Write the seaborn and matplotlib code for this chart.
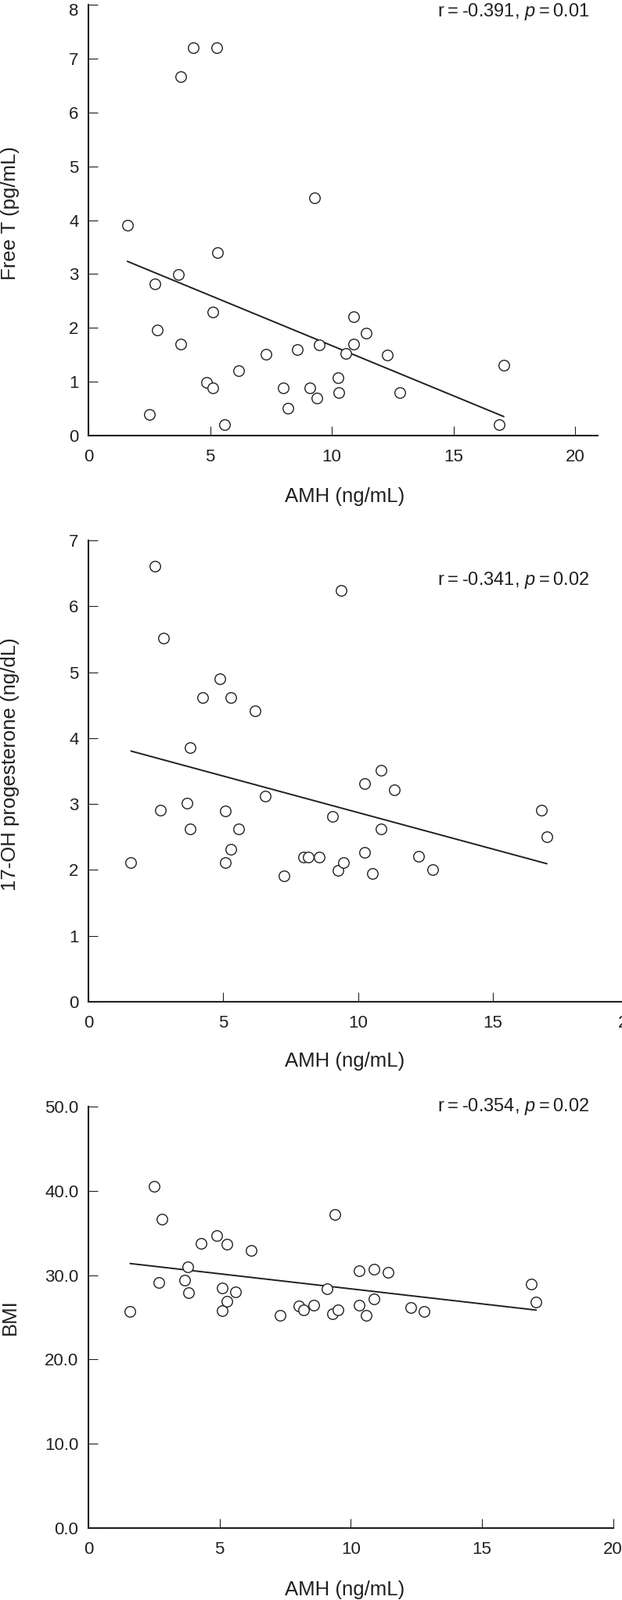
import matplotlib
matplotlib.use("Agg")
import matplotlib.pyplot as plt
import matplotlib.transforms as mtransforms
import seaborn as sns
import numpy as np
import pandas as pd

# ---------------- data ----------------
amh_t = [1.60, 2.52, 2.72, 2.82, 3.71, 3.78, 3.79, 4.32, 4.87, 5.11, 5.11, 5.28, 5.31,
         5.60, 6.17, 7.31, 8.00, 8.21, 8.60, 9.09, 9.28, 9.38, 9.50, 10.24, 10.29,
         10.59, 10.90, 10.90, 11.40, 12.28, 12.80, 16.87, 17.07]
free_t = [3.90, 0.39, 2.81, 1.96, 2.99, 6.66, 1.70, 7.20, 0.99, 0.89, 2.30, 7.20, 3.40,
          0.20, 1.21, 1.51, 0.89, 0.51, 1.60, 0.89, 4.42, 0.70, 1.69, 1.08, 0.80,
          1.52, 2.20, 1.70, 1.90, 1.50, 0.80, 0.20, 1.30]

amh_p = [1.58, 2.48, 2.67, 2.79, 3.66, 3.78, 3.78, 4.25, 4.88, 5.08, 5.08, 5.27, 5.28,
         5.56, 6.18, 6.57, 7.27, 7.99, 8.16, 8.55, 9.07, 9.27, 9.37, 9.46, 10.26, 10.26,
         10.55, 10.85, 10.85, 11.34, 12.25, 12.76, 16.82, 17.01]
ohp = [2.11, 6.61, 2.91, 5.52, 3.01, 3.86, 2.62, 4.61, 4.90, 2.89, 2.11, 4.61, 2.31,
       2.62, 4.41, 3.12, 1.91, 2.20, 2.20, 2.20, 2.81, 1.99, 6.24, 2.11, 3.31, 2.27,
       1.94, 3.51, 2.62, 3.21, 2.21, 2.00, 2.91, 2.50]

amh_b = [1.59, 2.51, 2.69, 2.80, 3.67, 3.78, 3.81, 4.29, 4.90, 5.11, 5.11, 5.29, 5.29,
         5.61, 6.21, 7.32, 8.01, 8.21, 8.60, 9.10, 9.31, 9.40, 9.51, 10.31, 10.31,
         10.60, 10.88, 10.88, 11.41, 12.28, 12.79, 16.87, 17.07]
bmi = [25.7, 40.55, 29.1, 36.6, 29.45, 30.97, 27.88, 33.8, 34.7, 28.5, 25.76, 33.7, 26.9,
       27.97, 32.9, 25.2, 26.3, 25.9, 26.4, 28.4, 25.4, 37.2, 25.9, 30.5, 26.4,
       25.2, 30.7, 27.2, 30.3, 26.2, 25.7, 28.9, 26.8]

x_ticks = [0, 5, 10, 15, 20]
ylabels = ["Free T (pg/mL)", "17-OH progesterone (ng/dL)", "BMI"]
xlabel = "AMH (ng/mL)"
TS = "\u2009"
annotations = [f"r{TS}={TS}-0.391, $p${TS}={TS}0.01",
               f"r{TS}={TS}-0.341, $p${TS}={TS}0.02",
               f"r{TS}={TS}-0.354, $p${TS}={TS}0.02"]

# ---------------- style ----------------
sns.set_theme(style="ticks")
plt.rcParams["font.family"] = ["Liberation Sans", "DejaVu Sans"]
plt.rcParams["mathtext.fontset"] = "custom"
plt.rcParams["mathtext.rm"] = "Liberation Sans"
plt.rcParams["mathtext.it"] = "Liberation Sans:italic"
INK = "#231f20"

W, H = 795, 2046
fig = plt.figure(figsize=(W / 100, H / 100), dpi=100)
fig.patch.set_facecolor("white")


def px_axes(left, top, right, bottom):
    return fig.add_axes([left / W, 1 - bottom / H, (right - left) / W, (bottom - top) / H])


ax1 = px_axes(113, 6, 764, 557)
ax2 = px_axes(113, 691, 113 + 21 * 34.45, 1281)
ax3 = px_axes(113, 1415, 783.6, 1954)

panels = [
    (ax1, amh_t, free_t, (0, 20.93), (0, 8), np.arange(0, 9, 1), "{:.0f}", 635, 273, 15),
    (ax2, amh_p, ohp, (0, 21), (0, 7), np.arange(0, 8, 1), "{:.0f}", 1357, 977, 742),
    (ax3, amh_b, bmi, (0, 20), (0, 50), np.arange(0, 51, 10), "{:.1f}", 2033, 1684, 1415),
]

for i, (ax, xs, ys, xlim, ylim, yticks, yfmt, xl_y, yl_y, ann_y) in enumerate(panels):
    df = pd.DataFrame({"x": xs, "y": ys})
    sns.regplot(data=df, x="x", y="y", ax=ax, scatter=False, ci=None, truncate=True,
                line_kws=dict(color=INK, lw=1.4, zorder=2))
    sns.scatterplot(data=df, x="x", y="y", ax=ax, s=95, facecolor="white",
                    edgecolor=INK, linewidth=1.0, zorder=3, clip_on=False)
    ax.set_xlim(*xlim)
    ax.set_ylim(*ylim)
    ax.set_xticks(x_ticks)
    ax.set_xticklabels([str(t) for t in x_ticks])
    ax.set_yticks(yticks)
    ax.set_yticklabels([yfmt.format(t) for t in yticks])
    for side in ("top", "right"):
        ax.spines[side].set_visible(False)
    for side in ("left", "bottom"):
        ax.spines[side].set_color(INK)
        ax.spines[side].set_linewidth(1.5)
    ax.tick_params(axis="both", direction="in", length=8.5, width=0.8, color=INK,
                   labelcolor=INK, labelsize=16)
    ax.tick_params(axis="x", pad=12)
    ax.tick_params(axis="y", pad=9)
    ax.set_xlabel(xlabel, fontsize=18.5, color=INK, va="center", ha="center")
    ax.set_ylabel(ylabels[i], fontsize=18.5, color=INK, va="center", ha="center")
    ax.xaxis.set_label_coords(441 / W, 1 - xl_y / H, transform=fig.transFigure)
    ax.yaxis.set_label_coords(13 / W, 1 - yl_y / H, transform=fig.transFigure)
    fig.text(753 / W, 1 - ann_y / H, annotations[i], ha="right", va="center",
             fontsize=17, color=INK)

# top "8" label sits slightly below its tick, as in the reference
fig.canvas.draw()
top_lab = ax1.get_yticklabels()[-1]
top_lab.set_transform(top_lab.get_transform() +
                      mtransforms.ScaledTranslation(0, -6 / 100, fig.dpi_scale_trans))

fig.savefig("out.png", dpi=100, facecolor="white")
